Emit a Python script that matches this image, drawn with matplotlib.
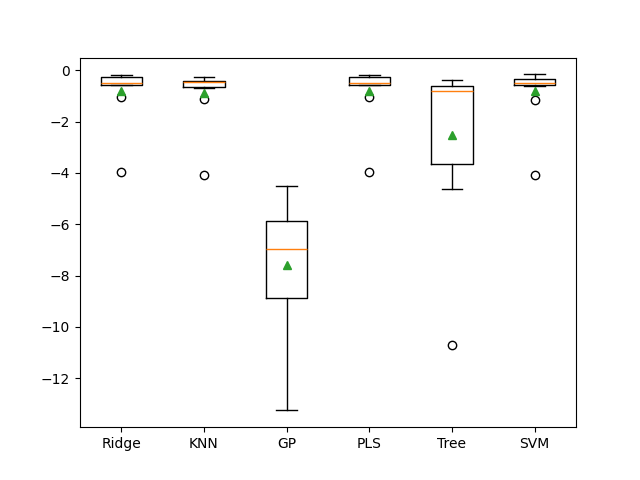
import matplotlib
matplotlib.use("Agg")
import matplotlib.pyplot as plt

# model names and box statistics
names = ["Ridge", "KNN", "GP", "PLS", "Tree", "SVM"]
whishi = [-0.19, -0.28, -4.52, -0.20, -0.39, -0.16]
q3 = [-0.27, -0.42, -5.87, -0.28, -0.60, -0.32]
med = [-0.48, -0.45, -6.95, -0.49, -0.79, -0.51]
q1 = [-0.56, -0.66, -8.86, -0.56, -3.67, -0.57]
whislo = [-0.58, -0.68, -13.25, -0.58, -4.64, -0.60]
means = [-0.82, -0.90, -7.60, -0.82, -2.53, -0.82]
fliers = [[-1.05, -3.97], [-1.10, -4.07], [], [-1.03, -3.98], [-10.69], [-1.17, -4.06]]

stats = []
for i in range(len(names)):
    stats.append(dict(label=names[i], whishi=whishi[i], q3=q3[i], med=med[i],
                      q1=q1[i], whislo=whislo[i], mean=means[i], fliers=fliers[i]))

fig, ax = plt.subplots(figsize=(6.4, 4.8), dpi=100)
ax.bxp(stats, showmeans=True)
plt.savefig("out.png")
